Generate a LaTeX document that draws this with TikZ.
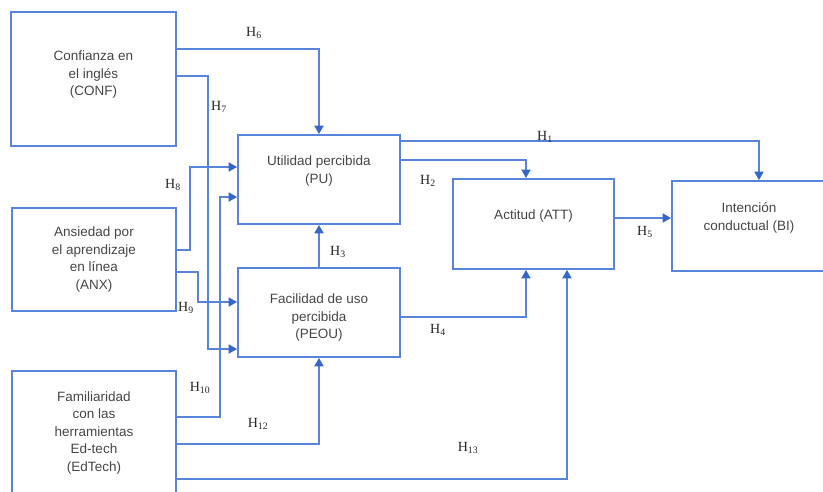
\documentclass[tikz,border=0pt]{standalone}
\usepackage{fontspec}
\setmainfont{Liberation Sans}
\newfontfamily\hfont{Liberation Serif}
\usetikzlibrary{arrows.meta,positioning}
\definecolor{lblue}{RGB}{88,132,218}
\definecolor{ablue}{RGB}{52,102,204}
\definecolor{tgray}{RGB}{70,70,70}
\tikzset{
  box/.style={draw=lblue, line width=1.8pt, inner sep=0pt},
  txt/.style={align=center, text=tgray, font=\fontsize{13.5}{17.5}\selectfont},
  link/.style={lblue, line width=1.8pt,
               -{Triangle[length=8.5pt, width=9pt, color=ablue, fill=ablue]}},
  hlab/.style={font=\hfont\fontsize{14}{16}\selectfont, text=black!85, inner sep=0pt},
}
\newcommand{\hyp}[1]{H\textsubscript{#1}}

\begin{document}
\begin{tikzpicture}[x=1pt, y=-1pt]
  \useasboundingbox (0,0) rectangle (823,492);
  \clip (0,0) rectangle (823,492);
  % constructs
  \node[box, minimum width=165, minimum height=134] (conf) at (93.5,79) {};
  \node[txt] (conf-t) at ([yshift=4pt]conf.center) {Confianza en\\el inglés\\(CONF)};
  \node[box, minimum width=164, minimum height=103] (anx) at (94,259.5) {};
  \node[txt] (anx-t) at (anx.center) {Ansiedad por\\el aprendizaje\\en línea\\(ANX)};
  \node[box, minimum width=164, minimum height=124] (edtech) at (94,433) {};
  \node[txt] (edtech-t) at (edtech.center) {Familiaridad\\con las\\herramientas\\Ed-tech\\(EdTech)};
  \node[box, minimum width=162, minimum height=89] (pu) at (319,179.5) {};
  \node[txt] (pu-t) at ([yshift=8.5pt]pu.center) {Utilidad percibida\\(PU)};
  \node[box, minimum width=162, minimum height=89] (peou) at (319,312.5) {};
  \node[txt] (peou-t) at ([yshift=-5.5pt]peou.center) {Facilidad de uso\\percibida\\(PEOU)};
  \node[box, minimum width=161, minimum height=90] (att) at (533.5,224) {};
  \node[txt] (att-t) at ([yshift=8pt]att.center) {Actitud (ATT)};
  \node[box, minimum width=154, minimum height=90] (bi) at (749,226) {};
  \node[txt] (bi-t) at ([yshift=8pt]bi.center) {Intención\\conductual (BI)};

  % paths
  \draw[link] (pu.east |- 0,141) -| ([xshift=10pt]bi.north);
  \draw[link] (pu.east |- 0,160) -| ([xshift=-7.5pt]att.north);
  \draw[link] (peou.north) -- (pu.south);
  \draw[link] (peou.east |- 0,317) -| ([xshift=-7.5pt]att.south);
  \draw[link] (att.east |- 0,218) -- (bi.west |- 0,218);
  \draw[link] (conf.east |- 0,49) -| (pu.north);
  \draw[link] (conf.east |- 0,76) -| (208,349) -- (peou.west |- 0,349);
  \draw[link] (anx.east |- 0,250) -| (190,167) -- (pu.west |- 0,167);
  \draw[link] (anx.east |- 0,272) -| (198,302) -- (peou.west |- 0,302);
  \draw[link] (edtech.east |- 0,417) -| (220,197) -- (pu.west |- 0,197);
  \draw[link] (edtech.east |- 0,444) -| (peou.south);
  \draw[link] (edtech.east |- 0,479) -| ([xshift=33.5pt]att.south);

  % hypothesis labels
  \node[hlab] (h1) at (545,137) {\hyp{1}};
  \node[hlab] (h2) at (428,181) {\hyp{2}};
  \node[hlab] (h3) at (338,252) {\hyp{3}};
  \node[hlab] (h4) at (438,330) {\hyp{4}};
  \node[hlab] (h5) at (645,232) {\hyp{5}};
  \node[hlab] (h6) at (254,33) {\hyp{6}};
  \node[hlab] (h7) at (219,107) {\hyp{7}};
  \node[hlab] (h8) at (173,185) {\hyp{8}};
  \node[hlab] (h9) at (186,308) {\hyp{9}};
  \node[hlab] (h10) at (200,388) {\hyp{10}};
  \node[hlab] (h12) at (258,424) {\hyp{12}};
  \node[hlab] (h13) at (468,448) {\hyp{13}};
\end{tikzpicture}
\end{document}
